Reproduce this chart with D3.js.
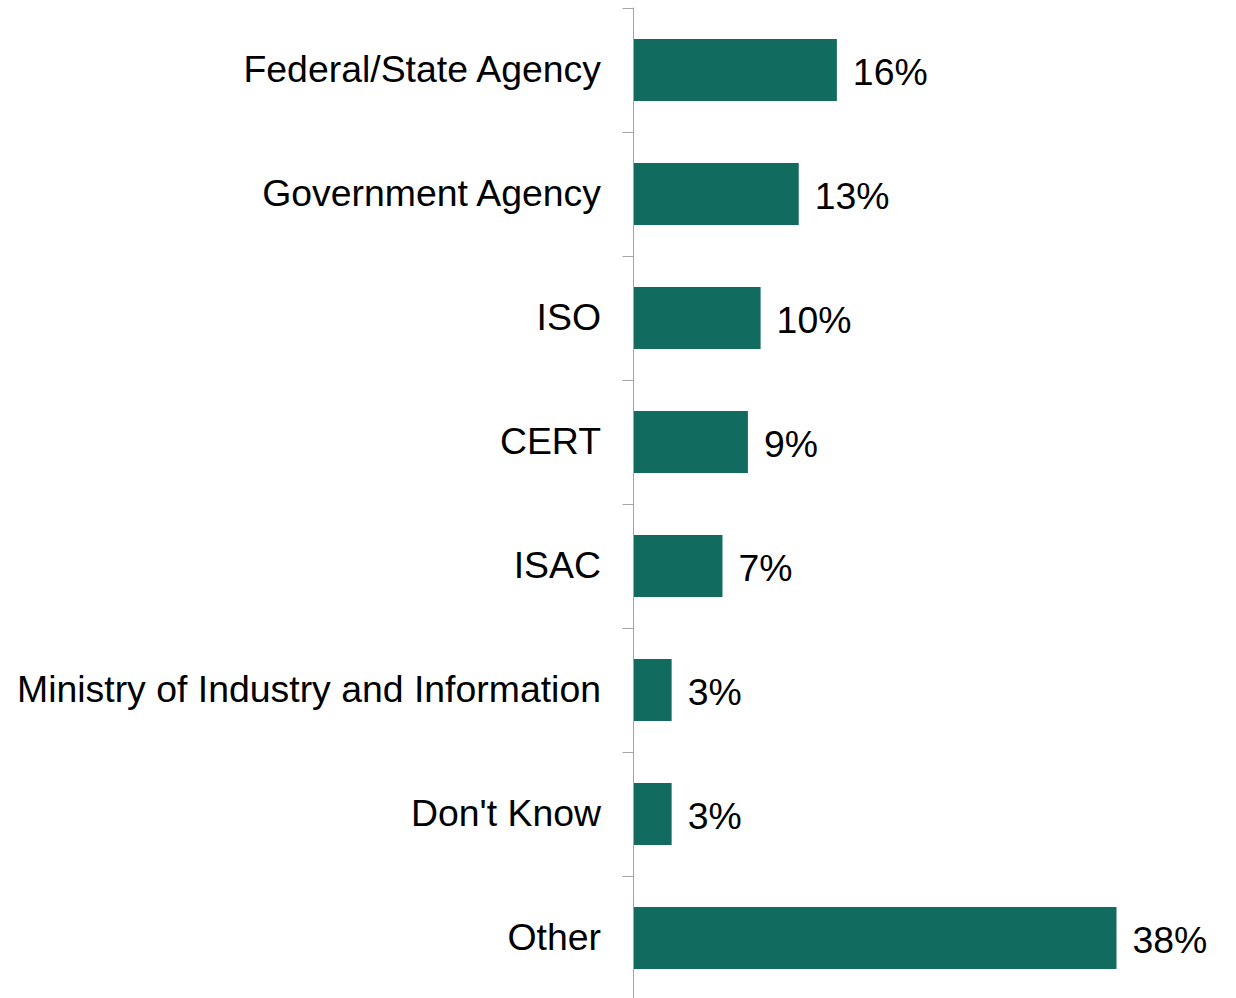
<!DOCTYPE html>
<html>
<head>
<meta charset="utf-8">
<script src="https://cdn.jsdelivr.net/npm/d3@7"></script>
<style>
  body { margin: 0; background: #fff; }
  text { font-family: "Liberation Sans", Arial, sans-serif; fill: #000; }
</style>
</head>
<body>
<div id="chart"></div>
<script>
// data
var categories = ["Federal/State Agency", "Government Agency", "ISO", "CERT", "ISAC",
	"Ministry of Industry and Information", "Don't Know", "Other"];
var values = [16, 13, 10, 9, 7, 3, 3, 38];

var width = 1236,
	height = 998;

var axisX = 633.5;

var svg = d3.select("#chart").append("svg")
	.attr("width", width)
	.attr("height", height);

var y = d3.scaleBand()
	.domain(categories)
	.range([8, 1000])
	.paddingInner(0.5)
	.paddingOuter(0.25);

var x = d3.scaleLinear()
	.domain([0, 38])
	.range([axisX, 1116.5]);

var rows = categories.map((c, i) => ({name: c, value: values[i]}));

// bars
svg.append("g")
	.selectAll("rect")
	.data(rows)
	.enter()
	.append("rect")
	.attr("x", x(0))
	.attr("y", d => y(d.name))
	.attr("width", d => x(d.value) - x(0))
	.attr("height", y.bandwidth())
	.attr("fill", "#126B5F");

// axis line + tick marks between bands
var axis = svg.append("g").attr("class", "axis");
axis.append("line")
	.attr("x1", axisX).attr("x2", axisX)
	.attr("y1", 7.5).attr("y2", height)
	.attr("stroke", "#a6a6a6")
	.attr("stroke-width", 1);

var tickYs = categories.map(c => y(c) - y.step() * y.paddingInner() / 2);
axis.selectAll(".tick")
	.data(tickYs)
	.enter()
	.append("line")
	.attr("class", "tick")
	.attr("x1", axisX - 11).attr("x2", axisX)
	.attr("y1", d => Math.floor(d) + 0.5)
	.attr("y2", d => Math.floor(d) + 0.5)
	.attr("stroke", "#a6a6a6")
	.attr("stroke-width", 1);

// category labels
svg.append("g")
	.selectAll("text")
	.data(rows)
	.enter()
	.append("text")
	.attr("x", 601)
	.attr("y", d => y(d.name) + y.bandwidth() / 2)
	.attr("dy", 12)
	.attr("text-anchor", "end")
	.attr("font-size", 37.4)
	.text(d => d.name);

// value labels
svg.append("g")
	.selectAll("text")
	.data(rows)
	.enter()
	.append("text")
	.attr("x", d => x(d.value) + 16)
	.attr("y", d => y(d.name) + y.bandwidth() / 2)
	.attr("dy", 15)
	.attr("font-size", 37.4)
	.text(d => d.value + "%");
</script>
</body>
</html>
